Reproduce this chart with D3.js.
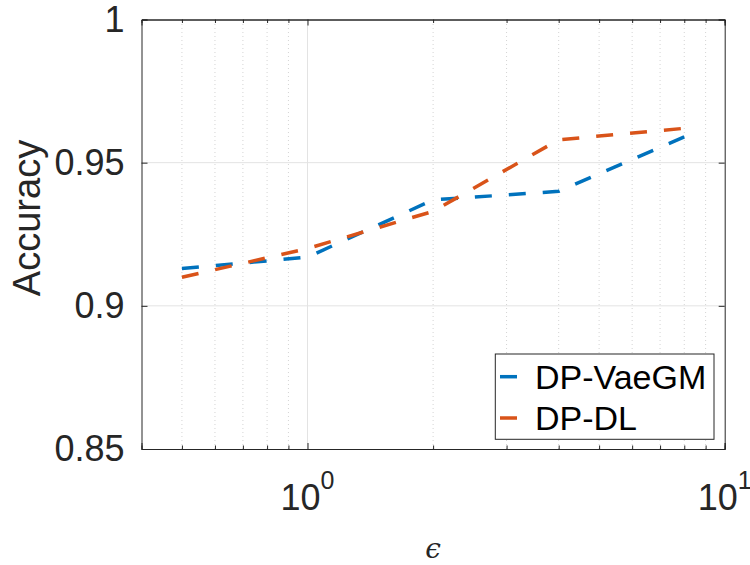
<!DOCTYPE html>
<html>
<head>
<meta charset="utf-8">
<script src="https://cdn.jsdelivr.net/npm/d3@7"></script>
<style>
  body { margin: 0; background: #fff; }
  svg { font-family: "Liberation Sans", Arial, sans-serif; }
</style>
</head>
<body>
<svg></svg>
<script>
// data
const epsilons = [0.5, 1, 2, 4, 8]
const vaegm = [0.913, 0.917, 0.937, 0.940, 0.959]
const dpdl = [0.910, 0.920, 0.933, 0.958, 0.962]
const seriesNames = ["DP-VaeGM", "DP-DL"]
const seriesColors = ["#0072BD", "#D95319"]
const yTicks = [0.85, 0.9, 0.95, 1]
const xMajor = [1, 10]
const xMinor = [0.5, 0.6, 0.7, 0.8, 0.9, 2, 3, 4, 5, 6, 7, 8, 9]

const svg = d3.select("svg")
    .attr("width", 750)
    .attr("height", 565)

const x = d3.scaleLog()
    .domain([0.4, 10])
    .range([141.5, 724.7])

const y = d3.scaleLinear()
    .domain([0.85, 1])
    .range([449, 19.5])

// grid lines
svg.append("g")
    .selectAll("line")
    .data(xMinor)
    .enter()
    .append("line")
    .attr("x1", d => x(d)).attr("x2", d => x(d))
    .attr("y1", y(0.85)).attr("y2", y(1))
    .style("stroke", "#d4d4d4")
    .style("stroke-width", 1)
    .style("stroke-dasharray", "1,3")

svg.append("g")
    .selectAll("line")
    .data([1])
    .enter()
    .append("line")
    .attr("x1", d => x(d)).attr("x2", d => x(d))
    .attr("y1", y(0.85)).attr("y2", y(1))
    .style("stroke", "#e3e3e3")

svg.append("g")
    .selectAll("line")
    .data([0.9, 0.95])
    .enter()
    .append("line")
    .attr("x1", x(0.4)).attr("x2", x(10))
    .attr("y1", d => y(d)).attr("y2", d => y(d))
    .style("stroke", "#e3e3e3")

// axes, ticks pointing inward like matlab
const axBottom = svg.append("g").attr("transform", `translate(0, ${y(0.85)})`)
axBottom.call(d3.axisBottom(x).tickValues(xMinor).tickSize(-3.5).tickFormat(""))
axBottom.append("g").call(d3.axisBottom(x).tickValues(xMajor).tickSize(-6).tickFormat(""))

const axTop = svg.append("g").attr("transform", `translate(0, ${y(1)})`)
axTop.call(d3.axisTop(x).tickValues(xMinor).tickSize(-3.5).tickFormat(""))
axTop.append("g").call(d3.axisTop(x).tickValues(xMajor).tickSize(-6).tickFormat(""))

const axLeft = svg.append("g").attr("transform", `translate(${x(0.4)}, 0)`)
axLeft.call(d3.axisLeft(y).tickValues(yTicks).tickSize(-6).tickPadding(17)
    .tickFormat(d => d3.format("")(d)))

const axRight = svg.append("g").attr("transform", `translate(${x(10)}, 0)`)
axRight.call(d3.axisRight(y).tickValues(yTicks).tickSize(-6).tickFormat(""))

svg.selectAll(".domain, .tick line")
    .style("stroke", "#262626")
    .style("stroke-width", 1)

axLeft.selectAll("text")
    .style("font-size", "36px")
    .style("fill", "#262626")
    .style("font-family", "Liberation Sans, Arial, sans-serif")

// x tick labels 10^k
const xLabels = svg.append("g")
    .selectAll("text")
    .data(xMajor)
    .enter()
    .append("text")
    .attr("x", d => x(d))
    .attr("y", 510)
    .attr("text-anchor", "middle")
    .style("fill", "#262626")
    .style("font-size", "36px")

xLabels.append("tspan").text("10")
xLabels.append("tspan")
    .attr("dy", -21)
    .style("font-size", "25px")
    .text(d => Math.round(Math.log10(d)))

// lines
const line = d3.line()
    .x(d => x(d[0]))
    .y(d => y(d[1]))

const series = [vaegm, dpdl]
series.forEach((vals, i) => {
    svg.append("path")
        .datum(epsilons.map((e, j) => [e, vals[j]]))
        .attr("d", line)
        .style("fill", "none")
        .style("stroke", seriesColors[i])
        .style("stroke-width", 3.5)
        .style("stroke-dasharray", "17,17")
})

// axis titles
svg.append("text")
    .attr("transform", "translate(40, 218) rotate(-90)")
    .attr("text-anchor", "middle")
    .style("font-size", "38px")
    .style("fill", "#262626")
    .text("Accuracy")

svg.append("text")
    .attr("x", 433)
    .attr("y", 558)
    .attr("text-anchor", "middle")
    .style("font-family", "DejaVu Serif, serif")
    .style("font-style", "italic")
    .style("font-size", "28px")
    .style("fill", "#262626")
    .text("\u03F5")

// legend
const legend = svg.append("g")
legend.append("rect")
    .attr("x", 495.3)
    .attr("y", 354)
    .attr("width", 218.7)
    .attr("height", 85.3)
    .style("fill", "#fff")
    .style("stroke", "#262626")
    .style("stroke-width", 1)

const items = legend.selectAll("g.item")
    .data(seriesNames)
    .enter()
    .append("g")
    .attr("class", "item")
    .attr("transform", (d, i) => `translate(0, ${i * 41.3})`)

items.append("line")
    .attr("x1", 500).attr("x2", 517)
    .attr("y1", 376.7).attr("y2", 376.7)
    .style("stroke", (d, i) => seriesColors[i])
    .style("stroke-width", 3.5)

items.append("text")
    .attr("x", 535)
    .attr("y", 389)
    .style("font-size", "34px")
    .style("fill", "#000")
    .text(d => d)
</script>
</body>
</html>
